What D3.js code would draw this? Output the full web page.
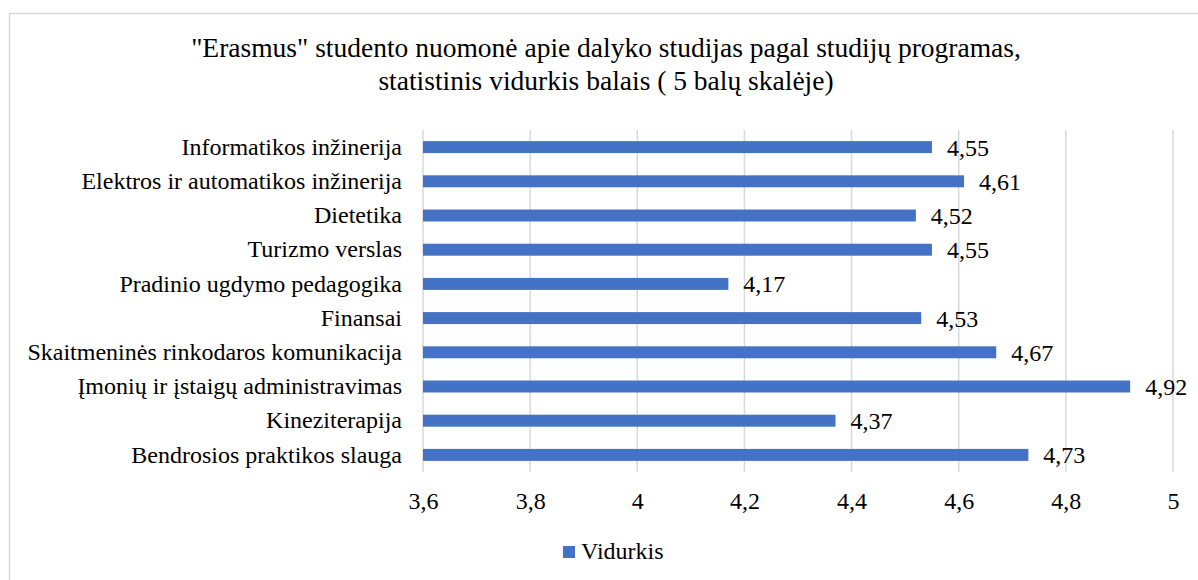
<!DOCTYPE html>
<html>
<head>
<meta charset="utf-8">
<script src="https://cdn.jsdelivr.net/npm/d3@7"></script>
<style>
body { margin: 0; background: #fff; }
</style>
</head>
<body>
<script>
var w = 1198;
var h = 580;
var serifFont = "'Liberation Serif', Tinos, 'Times New Roman', serif";

//Data
var categories = [
	"Informatikos inžinerija",
	"Elektros ir automatikos inžinerija",
	"Dietetika",
	"Turizmo verslas",
	"Pradinio ugdymo pedagogika",
	"Finansai",
	"Skaitmeninės rinkodaros komunikacija",
	"Įmonių ir įstaigų administravimas",
	"Kineziterapija",
	"Bendrosios praktikos slauga"
];
var values = [4.55, 4.61, 4.52, 4.55, 4.17, 4.53, 4.67, 4.92, 4.37, 4.73];
var xTicks = [3.6, 3.8, 4, 4.2, 4.4, 4.6, 4.8, 5];
var seriesName = "Vidurkis";
var titleLines = [
	"\"Erasmus\" studento nuomonė apie dalyko studijas pagal studijų programas,",
	"statistinis vidurkis balais ( 5 balų skalėje)"
];

var plot = {left: 423, right: 1173, top: 130, bottom: 472};
var fmt = function(v) { return String(v).replace(".", ","); };

var svg = d3.select("body")
	.append("svg")
	.attr("width", w)
	.attr("height", h)
	.attr("font-family", serifFont);

//Frame
svg.append("rect")
	.attr("x", 9.5).attr("y", 13.5)
	.attr("width", 1200).attr("height", 600)
	.attr("fill", "#fff")
	.attr("stroke", "#d9d9d9")
	.attr("stroke-width", 1.5);

//Title
svg.selectAll("text.title")
	.data(titleLines)
	.enter()
	.append("text")
	.attr("class", "title")
	.attr("x", 606)
	.attr("y", function(d, i) { return 57 + i * 32.5; })
	.attr("text-anchor", "middle")
	.attr("font-size", 27.5)
	.text(function(d) { return d; });

var x = d3.scaleLinear().domain([3.6, 5]).range([plot.left, plot.right]);
var y = d3.scaleBand().domain(categories).range([plot.top, plot.bottom]).paddingInner(0.65).paddingOuter(0.325);

//Gridlines
svg.append("g")
	.selectAll("line")
	.data(xTicks)
	.enter()
	.append("line")
	.attr("x1", function(d) { return x(d); })
	.attr("x2", function(d) { return x(d); })
	.attr("y1", plot.top)
	.attr("y2", plot.bottom)
	.attr("stroke", "#d9d9d9")
	.attr("stroke-width", 1.5);

//X axis labels
var xAxis = d3.axisBottom(x).tickValues(xTicks).tickSize(0).tickPadding(0).tickFormat(fmt);
var gx = svg.append("g")
	.attr("transform", "translate(0," + plot.bottom + ")")
	.call(xAxis)
	.attr("font-family", serifFont)
	.attr("font-size", 24);
gx.select(".domain").remove();
gx.selectAll("text")
	.attr("y", 37)
	.attr("dy", 0)
	.attr("fill", "#000");

//Y axis labels
var yAxis = d3.axisLeft(y).tickSize(0).tickPadding(21);
var gy = svg.append("g")
	.attr("transform", "translate(" + plot.left + ",0)")
	.call(yAxis)
	.attr("font-family", serifFont)
	.attr("font-size", 24);
gy.select(".domain").remove();
gy.selectAll("text")
	.attr("fill", "#000");

//Bars
svg.append("g")
	.selectAll("rect")
	.data(values)
	.enter()
	.append("rect")
	.attr("x", x(3.6))
	.attr("y", function(d, i) { return y(categories[i]); })
	.attr("width", function(d) { return x(d) - x(3.6); })
	.attr("height", y.bandwidth())
	.attr("fill", "#4472c4");

//Value labels
svg.append("g")
	.attr("font-size", 24)
	.selectAll("text")
	.data(values)
	.enter()
	.append("text")
	.attr("x", function(d) { return x(d) + 15; })
	.attr("y", function(d, i) { return y(categories[i]) + y.bandwidth() / 2; })
	.attr("dy", "0.35em")
	.text(fmt);

//Legend
var legend = svg.append("g").attr("transform", "translate(563,552)");
legend.append("rect")
	.attr("x", 0).attr("y", -6)
	.attr("width", 12).attr("height", 12)
	.attr("fill", "#4472c4");
legend.append("text")
	.attr("x", 18).attr("y", 7)
	.attr("font-size", 24)
	.text(seriesName);
</script>
</body>
</html>
